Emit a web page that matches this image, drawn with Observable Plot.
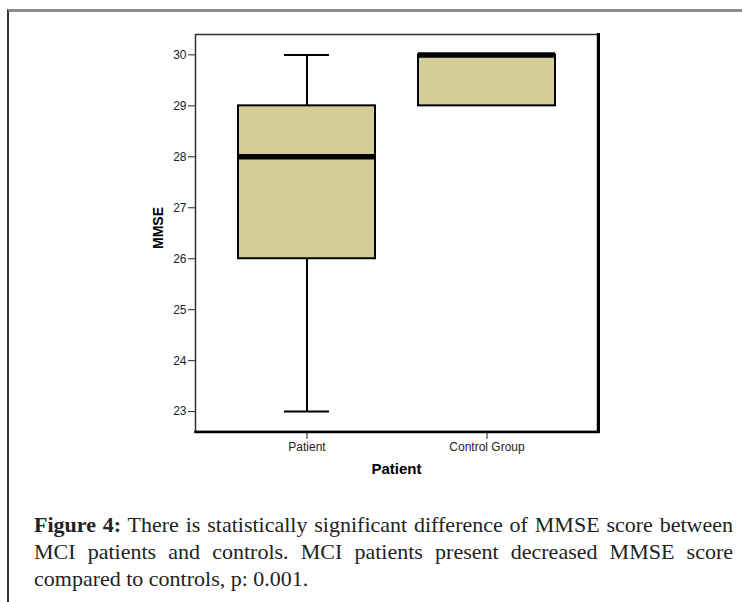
<!DOCTYPE html>
<html>
<head>
<meta charset="utf-8">
<script src="https://cdn.jsdelivr.net/npm/d3@7"></script>
<script src="https://cdn.jsdelivr.net/npm/@observablehq/plot@0.6"></script>
<style>
  html, body { margin: 0; padding: 0; background: #fff; }
  #page { position: relative; width: 742px; height: 602px; overflow: hidden; }
  #border { position: absolute; left: 7px; top: 9px; width: 760px; height: 620px;
            border-top: 3px solid #8c8c8c; border-left: 2px solid #333; }
  #chart { position: absolute; left: 0; top: 0; }
  #caption { position: absolute; left: 34px; top: 511px; width: 699px;
             font-family: "Liberation Serif", "Times New Roman", serif; font-size: 22px;
             line-height: 27px; color: #222; }
  #caption .j { text-align: justify; text-align-last: justify; white-space: nowrap; }
</style>
</head>
<body>
<div id="page">
  <div id="border"></div>
  <div id="chart"></div>
  <div id="caption">
    <div class="j"><b>Figure 4:</b> There is statistically significant difference of MMSE score between</div>
    <div class="j">MCI patients and controls. MCI patients present decreased MMSE score</div>
    <div>compared to controls, p: 0.001.</div>
  </div>
</div>
<script>
const groups  = ["Patient", "Control Group"];
const mins    = [23, 29];
const q1s     = [26, 29];
const medians = [28, 30];
const q3s     = [29, 30];
const maxs    = [30, 30];
const yTicks  = [23, 24, 25, 26, 27, 28, 29, 30];
const yLabel  = "MMSE";
const xLabel  = "Patient";

const table = groups.map((g, i) => ({
  group: g, min: mins[i], q1: q1s[i], median: medians[i], q3: q3s[i], max: maxs[i]
}));
const withWhisk = table.filter(d => d.min < d.q1 || d.max > d.q3);

const chart = Plot.plot({
  width: 742,
  height: 485,
  marginLeft: 195,
  marginRight: 145,
  marginTop: 34,
  marginBottom: 54,
  style: { fontFamily: "'Liberation Sans', Arial, sans-serif", fontSize: "12px", background: "transparent", color: "#222" },
  x: { type: "band", domain: groups, paddingInner: 0.241, paddingOuter: 0.231, label: null, tickSize: 8, tickPadding: 3 },
  y: { domain: [22.61, 30.40], ticks: yTicks, tickFormat: d => String(d), label: null, tickSize: 7, tickPadding: 2 },
  marks: [
    Plot.ruleX(table, { x: "group", y1: "min", y2: "q1", stroke: "black", strokeWidth: 2 }),
    Plot.ruleX(table, { x: "group", y1: "q3", y2: "max", stroke: "black", strokeWidth: 2 }),
    Plot.tickY(withWhisk, { x: "group", y: "min", stroke: "black", strokeWidth: 2, insetLeft: 46, insetRight: 46 }),
    Plot.tickY(withWhisk, { x: "group", y: "max", stroke: "black", strokeWidth: 2, insetLeft: 46, insetRight: 46 }),
    Plot.barY(table, { x: "group", y1: "q1", y2: "q3", fill: "#d3ce98", stroke: "black", strokeWidth: 2 }),
    Plot.tickY(table, { x: "group", y: "median", stroke: "black", strokeWidth: 5.5 }),
    Plot.frame({ stroke: "#333", strokeWidth: 1.5 }),
    Plot.frame({ anchor: "right", stroke: "black", strokeWidth: 3, dx: 1 }),
    Plot.frame({ anchor: "bottom", stroke: "black", strokeWidth: 2.5, dy: 0.5 }),
    Plot.text([yLabel], { frameAnchor: "left", dx: -37, dy: -5, rotate: -90, text: d => d,
      fontWeight: "bold", fontSize: 14, fill: "black", textAnchor: "middle", lineAnchor: "middle" }),
    Plot.text([xLabel], { frameAnchor: "bottom", dy: 38, text: d => d,
      fontWeight: "bold", fontSize: 15, fill: "black", textAnchor: "middle", lineAnchor: "middle" })
  ]
});
document.getElementById("chart").appendChild(chart);
</script>
</body>
</html>
